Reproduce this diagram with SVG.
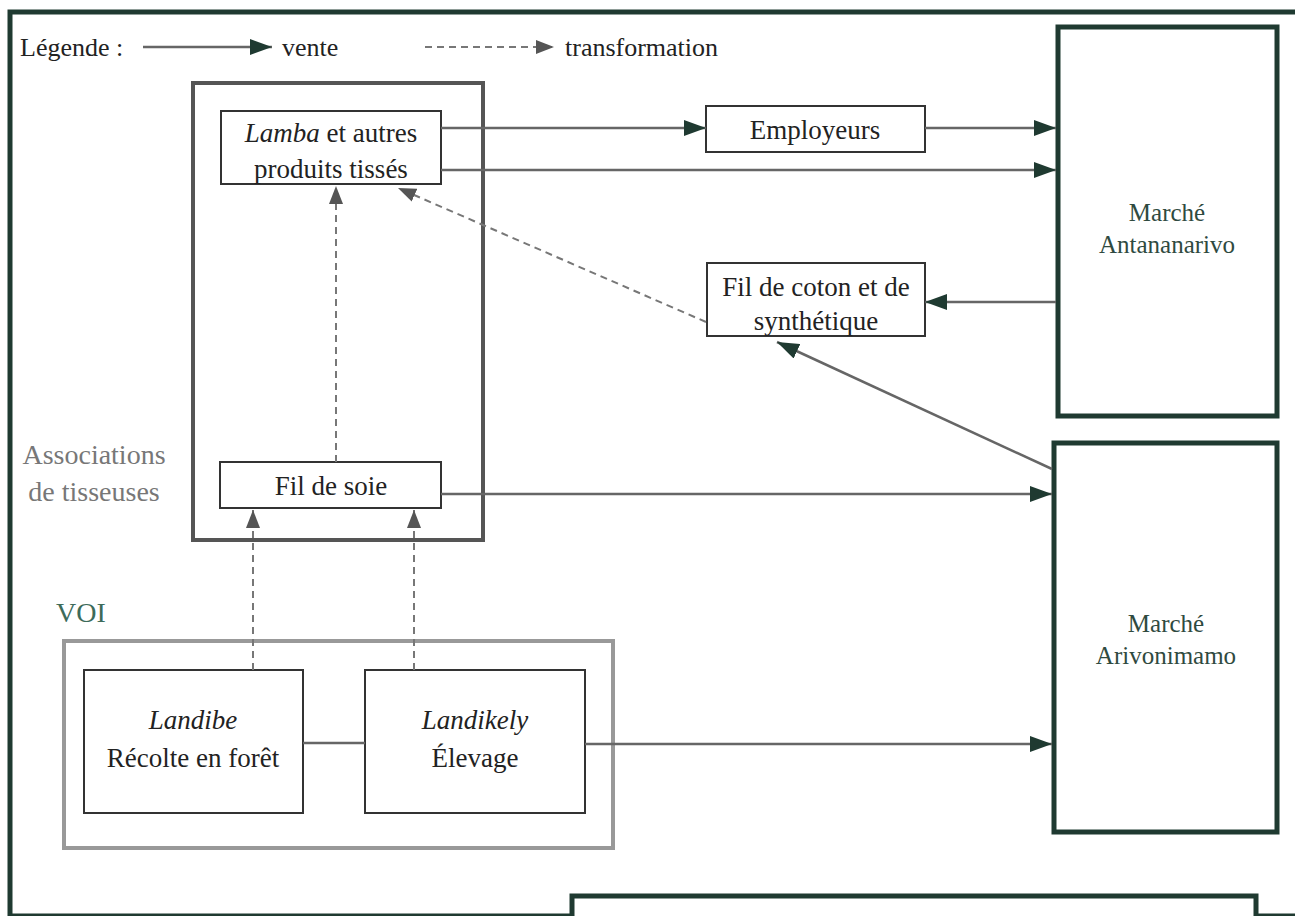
<svg xmlns="http://www.w3.org/2000/svg" width="1295" height="916" viewBox="0 0 1295 916">
<style>
text{font-family:'Liberation Serif','DejaVu Serif',serif;font-size:27px;fill:#222;text-anchor:middle}
.lg{font-size:28px}
.lgs{font-size:26px;text-anchor:start}
.box{fill:#fff;stroke:#333;stroke-width:2}
.mk{fill:#fff;stroke:#1f3a31;stroke-width:5}
.grn{fill:#2f4a40;font-size:25px}
.solid{fill:none;stroke:#666;stroke-width:2.5}
.dash{fill:none;stroke:#777;stroke-width:2;stroke-dasharray:7 5}
</style>
<defs>
<marker id="ah" markerUnits="userSpaceOnUse" markerWidth="22" markerHeight="16" refX="22" refY="8" orient="auto"><path d="M0,0 L22,8 L0,16 Z" fill="#1f3a31"/></marker>
<marker id="ahd" markerUnits="userSpaceOnUse" markerWidth="18" markerHeight="14" refX="18" refY="7" orient="auto"><path d="M0,0 L18,7 L0,14 Z" fill="#555"/></marker>
</defs>
<rect x="0" y="0" width="1295" height="916" fill="#fff"/>
<g id="frame"><path d="M10,916 V12 H1300" fill="none" stroke="#1f3a31" stroke-width="5"/><path d="M10,915 H572 M1256,915 H1300" fill="none" stroke="#1f3a31" stroke-width="3"/></g>
<g id="legend">
<text class="lgs" x="20" y="56">Légende :</text>
<path d="M143,47 H272" class="solid" marker-end="url(#ah)"/>
<text class="lgs" x="282" y="56">vente</text>
<path d="M425,47 H554" class="dash" marker-end="url(#ahd)"/>
<text class="lgs" x="565" y="56">transformation</text>
</g>
<g id="associations">
<rect x="193" y="83" width="290" height="457" fill="none" stroke="#555" stroke-width="4"/>
<text class="lg" x="94" y="464" style="fill:#777">Associations</text>
<text class="lg" x="94" y="501" style="fill:#777">de tisseuses</text>
</g>
<g id="lamba"><rect class="box" x="221" y="111" width="220" height="73"/><text x="331" y="142"><tspan font-style="italic">Lamba</tspan> et autres</text><text x="331" y="178">produits tissés</text></g>
<g id="fil-soie"><rect class="box" x="220" y="462" width="221" height="46"/><text x="331" y="495">Fil de soie</text></g>
<g id="employeurs"><rect class="box" x="706" y="106" width="219" height="46"/><text x="815" y="139">Employeurs</text></g>
<g id="fil-coton"><rect class="box" x="707" y="263" width="218" height="73"/><text x="816" y="296">Fil de coton et de</text><text x="816" y="330">synthétique</text></g>
<g id="marche-antananarivo"><rect class="mk" x="1058" y="27" width="219" height="389"/><text class="grn" x="1167" y="221">Marché</text><text class="grn" x="1167" y="253">Antananarivo</text></g>
<g id="marche-arivonimamo"><rect class="mk" x="1054" y="443" width="223" height="389"/><text class="grn" x="1166" y="632">Marché</text><text class="grn" x="1166" y="664">Arivonimamo</text></g>
<g id="voi">
<text class="lg" x="81" y="622" style="fill:#3d6b5a">VOI</text>
<rect x="64" y="641" width="549" height="207" fill="none" stroke="#999" stroke-width="4"/>
</g>
<g id="landibe"><rect class="box" x="84" y="670" width="219" height="143"/><text x="193" y="729" font-style="italic">Landibe</text><text x="193" y="767">Récolte en forêt</text></g>
<g id="landikely"><rect class="box" x="365" y="670" width="220" height="143"/><text x="475" y="729" font-style="italic">Landikely</text><text x="475" y="767">Élevage</text></g>
<g id="bottom-box"><path d="M572,916 V896 H1256 V916" fill="#fff" stroke="#1f3a31" stroke-width="5"/></g>
<g id="connectors">
<path class="solid" d="M441,128 H706" marker-end="url(#ah)"/>
<path class="solid" d="M925,128 H1056" marker-end="url(#ah)"/>
<path class="solid" d="M441,170 H1056" marker-end="url(#ah)"/>
<path class="solid" d="M1056,302 H925" marker-end="url(#ah)"/>
<path class="solid" d="M1052,469 L777,342" marker-end="url(#ah)"/>
<path class="solid" d="M441,494 H1052" marker-end="url(#ah)"/>
<path class="solid" d="M303,743 H365"/>
<path class="solid" d="M585,744 H1052" marker-end="url(#ah)"/>
<path class="dash" d="M336,462 V186" marker-end="url(#ahd)"/>
<path class="dash" d="M706,322 L398,188" marker-end="url(#ahd)"/>
<path class="dash" d="M253,670 V510" marker-end="url(#ahd)"/>
<path class="dash" d="M414,670 V510" marker-end="url(#ahd)"/>
</g>
</svg>
